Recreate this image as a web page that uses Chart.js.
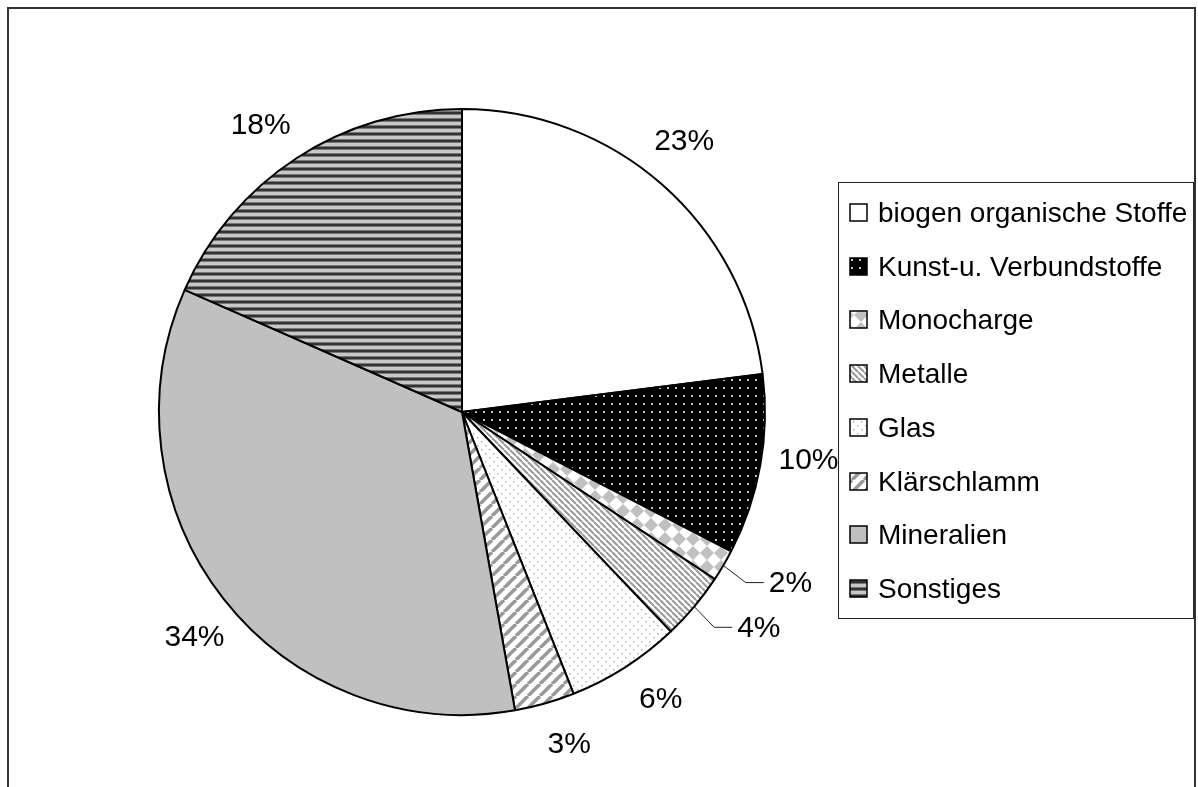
<!DOCTYPE html>
<html>
<head>
<meta charset="utf-8">
<script src="https://cdn.jsdelivr.net/npm/chart.js@4.4.0/dist/chart.umd.min.js"></script>
<style>
  body { margin: 0; background: #fff; }
  canvas { display: block; }
</style>
</head>
<body>
<canvas id="pie" width="1198" height="787"></canvas>
<script>
// Anteile (%) je Fraktion, im Uhrzeigersinn ab 12 Uhr
var categories = ['biogen organische Stoffe', 'Kunst-u. Verbundstoffe', 'Monocharge', 'Metalle',
    'Glas', 'Klärschlamm', 'Mineralien', 'Sonstiges'];
var shares = [23.0, 9.6, 1.7, 3.6, 6.1, 3.2, 34.4, 18.4];

var FONT = '28px "Liberation Sans", Arial, sans-serif';
var LABEL_FONT = '30px "Liberation Sans", Arial, sans-serif';

function makePattern(w, h, draw) {
    var c = document.createElement('canvas');
    c.width = w; c.height = h;
    var g = c.getContext('2d');
    draw(g, w, h);
    return g.createPattern(c, 'repeat');
}

// fill patterns, roughly like the old Excel hatches
var white = '#ffffff';
var dotsOnBlack = makePattern(8, 8, function (g) {
    g.fillStyle = '#000'; g.fillRect(0, 0, 8, 8);
    g.fillStyle = '#c8c8c8'; g.fillRect(3, 3, 2, 2);
});
var diamonds = makePattern(14, 14, function (g) {
    g.fillStyle = '#fff'; g.fillRect(0, 0, 14, 14);
    g.fillStyle = '#c0c0c0';
    g.beginPath(); g.moveTo(7, 0); g.lineTo(14, 7); g.lineTo(7, 14); g.lineTo(0, 7); g.closePath(); g.fill();
});
var thinDiag = makePattern(6, 6, function (g) {
    g.fillStyle = '#fff'; g.fillRect(0, 0, 6, 6);
    g.strokeStyle = '#999'; g.lineWidth = 2;
    [-6, 0, 6].forEach(function (o) {
        g.beginPath(); g.moveTo(o, 0); g.lineTo(o + 6, 6); g.stroke();
    });
});
var fineDots = makePattern(8, 8, function (g) {
    g.fillStyle = '#fff'; g.fillRect(0, 0, 8, 8);
    g.fillStyle = '#b0b0b0';
    g.fillRect(1, 1, 1.5, 1.5); g.fillRect(5, 5, 1.5, 1.5);
});
var wideDiag = makePattern(12, 12, function (g) {
    g.fillStyle = '#fff'; g.fillRect(0, 0, 12, 12);
    g.strokeStyle = '#999'; g.lineWidth = 3.5;
    [-12, 0, 12].forEach(function (o) {
        g.beginPath(); g.moveTo(o, 12); g.lineTo(o + 12, 0); g.stroke();
    });
});
var grey = '#c0c0c0';
var hStripes = makePattern(7, 7, function (g) {
    g.fillStyle = '#c8c8c8'; g.fillRect(0, 0, 7, 7);
    g.fillStyle = '#333'; g.fillRect(0, 0, 7, 2);
    g.fillStyle = '#777'; g.fillRect(0, 2, 7, 1); g.fillRect(0, 6, 7, 1);
});

var fills = [white, dotsOnBlack, diamonds, thinDiag, fineDots, wideDiag, grey, hStripes];

var framePlugin = {
    id: 'frame',
    beforeDraw: function (chart) {
        var ctx = chart.ctx;
        ctx.save();
        ctx.fillStyle = '#fff';
        ctx.fillRect(0, 0, chart.width, chart.height);
        ctx.strokeStyle = '#333';
        ctx.lineWidth = 2;
        ctx.strokeRect(8, 8, 1187, 800);
        ctx.restore();
    }
};

var labelPlugin = {
    id: 'pctLabels',
    afterDatasetsDraw: function (chart) {
        var ctx = chart.ctx;
        var vals = chart.data.datasets[0].data;
        var n = vals.length;
        var total = vals.reduce(function (a, b) { return a + b; }, 0);
        ctx.save();
        ctx.font = LABEL_FONT;
        ctx.fillStyle = '#000';
        ctx.textBaseline = 'middle';
        chart.getDatasetMeta(0).data.forEach(function (arc, i) {
            var p = arc.getProps(['x', 'y', 'startAngle', 'endAngle', 'outerRadius'], true);
            var mid = (p.startAngle + p.endAngle) / 2;
            var ux = Math.cos(mid), uy = Math.sin(mid);
            var r = p.outerRadius;
            var txt = Math.round(vals[i] / total * 100) + '%';
            var small = vals[i] / total < 0.05 &&
                (vals[(i + n - 1) % n] / total < 0.05 || vals[(i + 1) % n] / total < 0.05);
            if (small) {
                // pushed out with a leader line
                var ex = p.x + ux * (r + 26), ey = p.y + uy * (r + 26) + 4;
                var hx = ex + (ux >= 0 ? 18 : -18);
                ctx.strokeStyle = '#222';
                ctx.lineWidth = 1;
                ctx.beginPath();
                ctx.moveTo(p.x + ux * r, p.y + uy * r);
                ctx.lineTo(ex, ey);
                ctx.lineTo(hx, ey);
                ctx.stroke();
                ctx.textAlign = ux >= 0 ? 'left' : 'right';
                ctx.fillText(txt, hx + (ux >= 0 ? 5 : -5), ey + 1);
            } else {
                var a = mid - 2 * Math.PI / 180;
                ctx.textAlign = 'center';
                ctx.fillText(txt, p.x + Math.cos(a) * (r + 47), p.y + Math.sin(a) * (r + 47));
            }
        });
        ctx.restore();
    }
};

var legendPlugin = {
    id: 'boxLegend',
    afterDraw: function (chart) {
        var ctx = chart.ctx;
        var labels = chart.data.labels;
        var bg = chart.data.datasets[0].backgroundColor;
        var left = 838, top = 182, right = 1193, bottom = 618;
        ctx.save();
        ctx.fillStyle = '#fff';
        ctx.fillRect(left, top, right - left, bottom - top);
        ctx.strokeStyle = '#222';
        ctx.lineWidth = 1;
        ctx.strokeRect(left + 0.5, top + 0.5, right - left, bottom - top);
        var step = (bottom - top - 60) / (labels.length - 1);
        ctx.font = FONT;
        ctx.textAlign = 'left';
        ctx.textBaseline = 'middle';
        labels.forEach(function (lab, i) {
            var cy = Math.round(top + 31 + step * i);
            ctx.fillStyle = bg[i];
            ctx.fillRect(850, cy - 9, 17, 17);
            ctx.strokeStyle = '#000';
            ctx.lineWidth = 1.5;
            ctx.strokeRect(850, cy - 9, 17, 17);
            ctx.fillStyle = '#000';
            ctx.fillText(lab, 878, cy + 1);
        });
        ctx.restore();
    }
};

var ctx = document.getElementById('pie').getContext('2d');
var pieChart = new Chart(ctx, {
    type: 'pie',
    data: {
        labels: categories,
        datasets: [{
            data: shares,
            backgroundColor: fills,
            borderColor: '#000',
            borderWidth: 2
        }]
    },
    options: {
        responsive: false,
        devicePixelRatio: 1,
        animation: false,
        layout: {
            padding: { left: 158, right: 432, top: 108, bottom: 71 }
        },
        plugins: {
            legend: { display: false },
            tooltip: { enabled: false }
        }
    },
    plugins: [framePlugin, labelPlugin, legendPlugin]
});
</script>
</body>
</html>
